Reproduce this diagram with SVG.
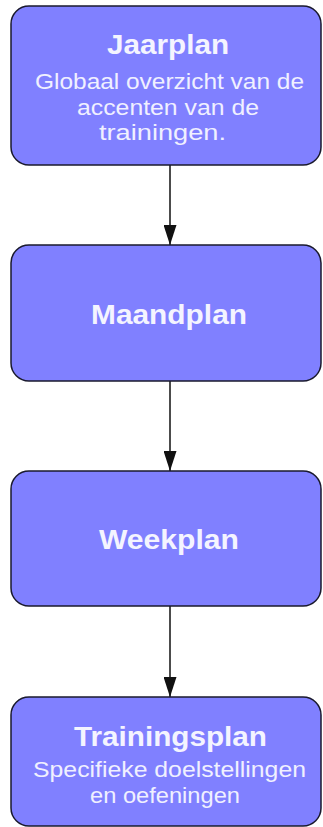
<svg xmlns="http://www.w3.org/2000/svg" width="323" height="827" viewBox="0 0 323 827">
  <style>
    .box { fill: #8080ff; stroke: #1a1a2e; stroke-width: 1.5; }
    .title { font-family: "Liberation Sans", Arial, sans-serif; font-weight: bold; font-size: 28px; fill: #f4f4ff; text-anchor: middle; }
    .sub { font-family: "Liberation Sans", Arial, sans-serif; font-size: 22px; fill: #f0f0ff; text-anchor: middle; }
    .conn { stroke: #111; stroke-width: 1.5; fill: none; }
  </style>
  <defs>
    <marker id="arrow" markerUnits="userSpaceOnUse" viewBox="0 0 20 13" refX="20" refY="6.5" markerWidth="20" markerHeight="13" orient="auto">
      <path d="M0,0 L20,6.5 L0,13 z" fill="#111"/>
    </marker>
  </defs>
  <rect width="323" height="827" fill="#ffffff"/>
  <g id="connectors">
    <line class="conn" x1="170" y1="165" x2="170" y2="245" marker-end="url(#arrow)"/>
    <line class="conn" x1="170" y1="381" x2="170" y2="471" marker-end="url(#arrow)"/>
    <line class="conn" x1="170" y1="606" x2="170" y2="697" marker-end="url(#arrow)"/>
  </g>
  <g id="jaarplan">
    <rect class="box" x="11" y="6" width="310" height="159" rx="18" ry="18"/>
    <text class="title" x="168" y="54" textLength="122" lengthAdjust="spacingAndGlyphs">Jaarplan</text>
    <text class="sub" x="169.5" y="89" textLength="269" lengthAdjust="spacingAndGlyphs">Globaal overzicht van de</text>
    <text class="sub" x="168" y="115" textLength="182" lengthAdjust="spacingAndGlyphs">accenten van de</text>
    <text class="sub" x="162.5" y="140" textLength="127" lengthAdjust="spacingAndGlyphs">trainingen.</text>
  </g>
  <g id="maandplan">
    <rect class="box" x="11" y="245" width="310" height="136" rx="18" ry="18"/>
    <text class="title" x="169" y="324" textLength="156" lengthAdjust="spacingAndGlyphs">Maandplan</text>
  </g>
  <g id="weekplan">
    <rect class="box" x="11" y="471" width="310" height="135" rx="18" ry="18"/>
    <text class="title" x="169" y="549" textLength="140" lengthAdjust="spacingAndGlyphs">Weekplan</text>
  </g>
  <g id="trainingsplan">
    <rect class="box" x="11" y="697" width="310" height="129" rx="18" ry="18"/>
    <text class="title" x="170.5" y="746" textLength="193" lengthAdjust="spacingAndGlyphs">Trainingsplan</text>
    <text class="sub" x="169.5" y="777" textLength="273" lengthAdjust="spacingAndGlyphs">Specifieke doelstellingen</text>
    <text class="sub" x="165" y="803" textLength="150" lengthAdjust="spacingAndGlyphs">en oefeningen</text>
  </g>
</svg>
